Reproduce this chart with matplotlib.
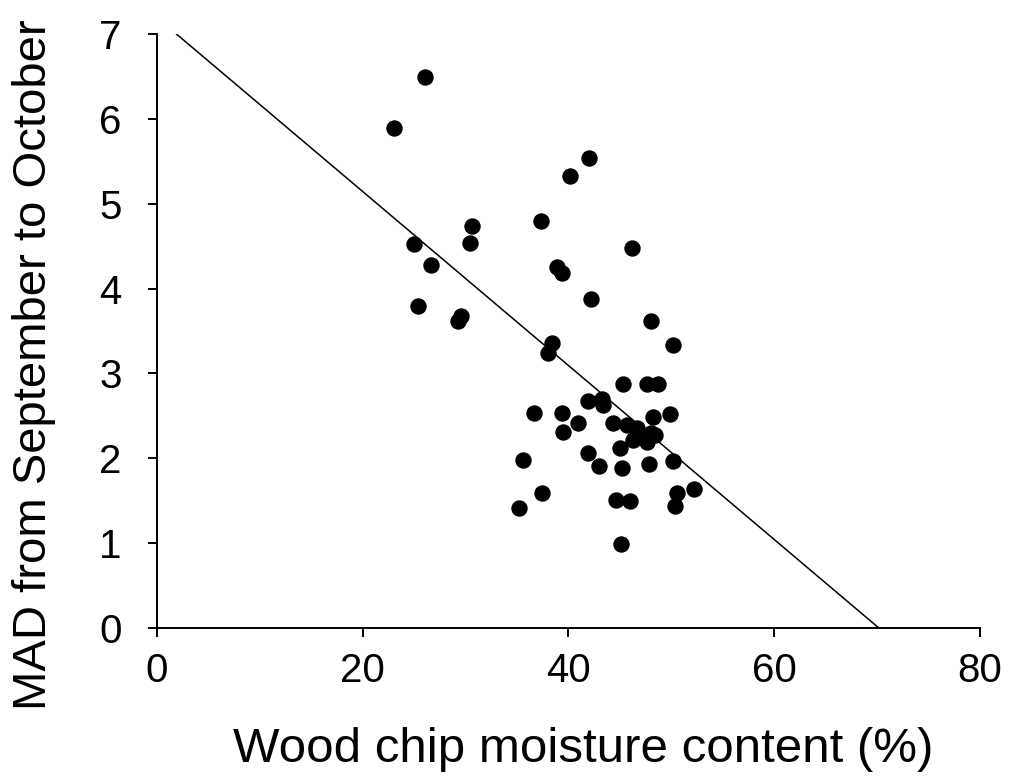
import matplotlib.pyplot as plt

# Wood chip moisture content (%) vs MAD
moisture = [23.0, 26.05, 24.98, 25.4, 26.6, 29.3, 29.6, 30.6, 30.4, 37.3,
            38.9, 39.4, 40.2, 42.0, 42.2, 46.2, 48.0, 50.2, 38.4, 38.0,
            36.7, 39.4, 40.9, 39.5, 41.9, 43.3, 43.4, 45.3, 47.6, 48.7,
            44.3, 45.7, 46.7, 48.2, 49.9, 47.1, 46.3, 48.4, 47.6, 45.0,
            41.9, 43.0, 45.2, 47.8, 50.2, 35.6, 37.4, 35.2, 44.6, 46.0,
            50.6, 52.2, 50.4, 45.1, 48.0]
mad = [5.89, 6.49, 4.53, 3.79, 4.28, 3.62, 3.68, 4.74, 4.54, 4.80,
       4.25, 4.18, 5.33, 5.54, 3.88, 4.48, 3.62, 3.33, 3.36, 3.24,
       2.53, 2.53, 2.42, 2.31, 2.67, 2.70, 2.63, 2.88, 2.88, 2.88,
       2.41, 2.39, 2.36, 2.49, 2.52, 2.25, 2.22, 2.27, 2.19, 2.12,
       2.06, 1.91, 1.88, 1.93, 1.97, 1.98, 1.59, 1.41, 1.51, 1.50,
       1.59, 1.64, 1.44, 0.99, 2.30]

# trend line
slope = -0.10256
intercept = 7.196
line_x = [1.91, 70.15]

font = "Liberation Sans"

fig = plt.figure(figsize=(10.26, 7.77), dpi=100)
ax = fig.add_axes([0.153, 0.192, 0.802, 0.764])

ax.plot(moisture, mad, "o", color="black", markersize=10.8, zorder=3)
ax.plot(line_x, [slope * v + intercept for v in line_x], color="black", linewidth=1.1)

ax.set_xlim(0, 80)
ax.set_ylim(0, 7)
ax.set_xticks([0, 20, 40, 60, 80])
ax.set_yticks(range(8))

ax.spines["top"].set_visible(False)
ax.spines["right"].set_visible(False)
for s in ["left", "bottom"]:
    ax.spines[s].set_linewidth(1.4)
ax.tick_params(axis="both", direction="out", length=6.5, width=1.4)
ax.tick_params(axis="y", pad=19)
ax.tick_params(axis="x", pad=11)

for lab in ax.get_xticklabels() + ax.get_yticklabels():
    lab.set_family(font)
    lab.set_fontsize(29)

ax.set_xlabel("Wood chip moisture content (%)", fontsize=35.5, family=font)
ax.set_ylabel("MAD from September to October", fontsize=34, family=font)
ax.xaxis.label.set_va("baseline")
ax.xaxis.set_label_coords(0.518, -0.2256)
ax.yaxis.set_label_coords(-0.1227, 0.444)

plt.savefig("out.png", dpi=100)
